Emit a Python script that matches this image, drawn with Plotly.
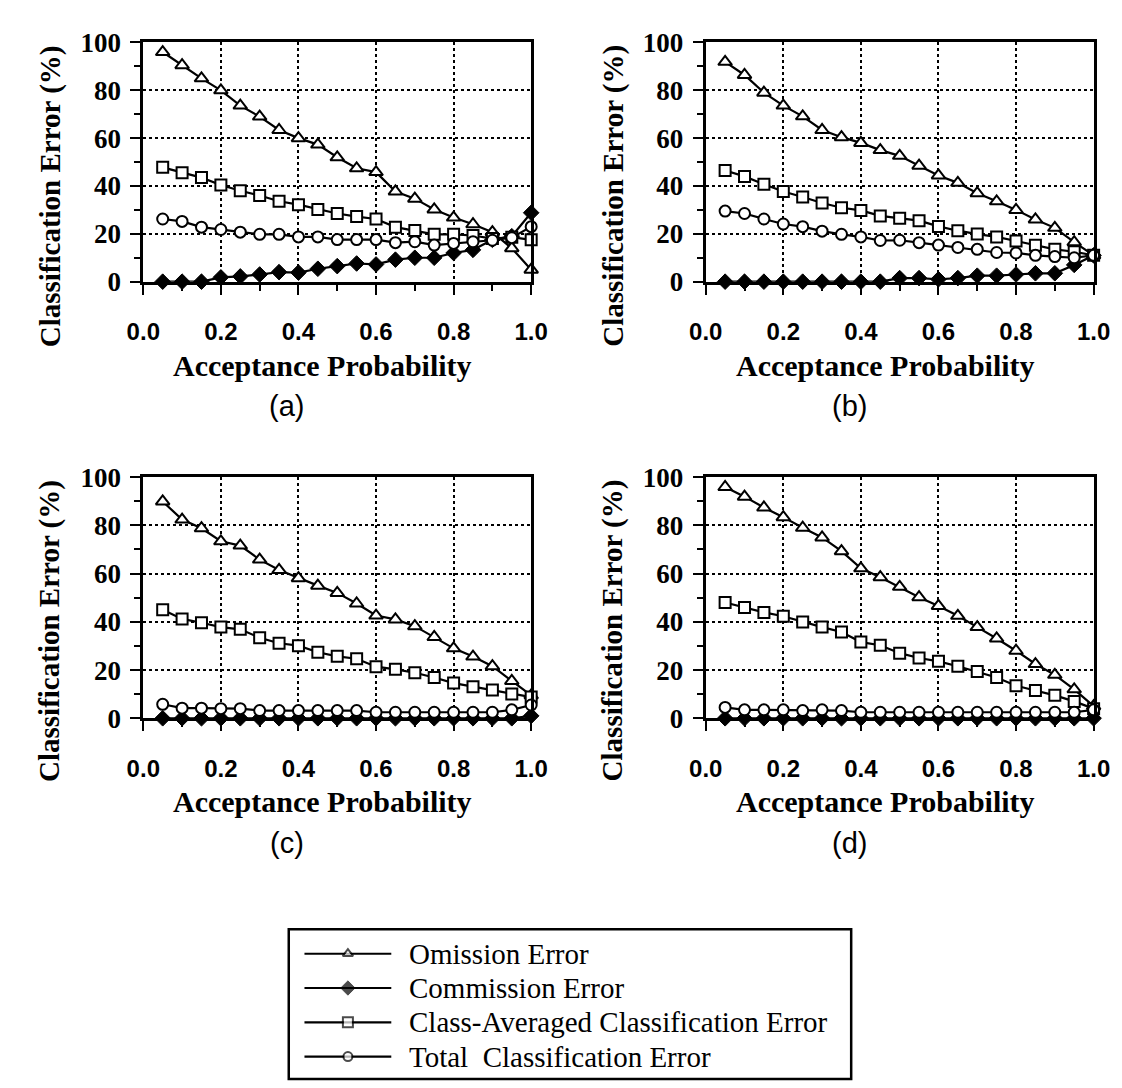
import plotly.graph_objects as go

# ---------------- data ----------------
accept_prob = [0.05, 0.10, 0.15, 0.20, 0.25, 0.30, 0.35, 0.40, 0.45, 0.50,
               0.55, 0.60, 0.65, 0.70, 0.75, 0.80, 0.85, 0.90, 0.95, 1.00]

omission_a = [96, 90.5, 85, 80, 73.6, 69, 63.4, 60, 57.3, 52, 47.4, 45.8, 37.7, 34.7, 30.2, 26.8, 24, 20.7, 14, 5]
commission_a = [0, 0, 0, 1.8, 2.2, 3, 4, 3.8, 5.4, 6.5, 7.6, 7.2, 9.2, 10, 10, 12, 13.3, 17.5, 19, 28.8]
avg_a = [47.8, 45.5, 43.5, 40.4, 38, 36, 33.6, 32.2, 30.2, 28.5, 27.2, 26.2, 22.8, 21.4, 19.8, 19.8, 19.3, 18, 18.6, 17.5]
total_a = [26.2, 25.2, 22.8, 21.8, 20.7, 19.8, 19.8, 18.7, 18.7, 17.6, 17.6, 17.6, 16.3, 16.7, 15.3, 16, 16.7, 17.3, 18.4, 23]

omission_b = [91.9, 86.4, 79, 73.6, 69.1, 63.4, 60.4, 58, 55, 52.6, 48.5, 44.4, 41.3, 37, 33.6, 30, 26, 22.5, 16.5, 11]
commission_b = [0, 0, 0, 0, 0, 0, 0, 0, 0, 1.5, 1.5, 1, 1.5, 2.5, 2.5, 3, 3.5, 3.5, 7, 11]
avg_b = [46.5, 44, 40.7, 37.7, 35.4, 32.9, 30.9, 29.8, 27.5, 26.5, 25.5, 23.1, 21.3, 19.9, 18.7, 17, 15.2, 13.5, 12.5, 11]
total_b = [29.5, 28.5, 26.2, 24.1, 23, 21.1, 19.8, 18.7, 17.2, 17.3, 16.3, 15.3, 14.3, 13.5, 12.2, 12, 11, 10.5, 10, 11]

omission_c = [89.9, 82.4, 78.8, 73.4, 71.6, 65.8, 61.5, 58.1, 55, 52, 47.6, 42.6, 41, 38.2, 33.7, 29, 25.6, 21.6, 15.5, 9.5]
commission_c = [0, 0, 0, 0, 0, 0, 0, 0, 0, 0, 0, 0, 0, 0, 0, 0, 0, 0, 0, 1]
avg_c = [45, 41.2, 39.6, 37.8, 36.9, 33.4, 31.1, 30.1, 27.4, 25.7, 24.7, 21.4, 20.3, 18.9, 16.9, 14.6, 13.1, 11.7, 10.1, 8.8]
total_c = [5.8, 4.2, 4.2, 4, 4, 3.2, 3.2, 3.2, 3.2, 3.2, 3.2, 2.5, 2.5, 2.5, 2.5, 2.5, 2.5, 2.5, 3.5, 5.5]

omission_d = [95.9, 91.9, 87.4, 83.4, 79, 75, 69.3, 62.2, 58.5, 54.5, 50.2, 46.6, 42.5, 37.8, 33.1, 28, 22.5, 18, 12, 5]
commission_d = [0, 0, 0, 0, 0, 0, 0, 0, 0, 0, 0, 0, 0, 0, 0, 0, 0, 0, 0, 0]
avg_d = [48, 45.9, 43.9, 42.3, 39.9, 37.8, 35.8, 31.6, 30.3, 27, 25, 23.6, 21.6, 19.4, 16.9, 13.5, 11.5, 9.5, 7, 4]
total_d = [4.5, 3.5, 3.5, 3.5, 3.2, 3.5, 3.2, 2.5, 2.5, 2.5, 2.5, 2.5, 2.5, 2.5, 2.5, 2.5, 2.5, 2.5, 2.5, 3.5]

series_names = ["Omission Error", "Commission Error",
                "Class-Averaged Classification Error", "Total  Classification Error"]
panel_labels = ["(a)", "(b)", "(c)", "(d)"]
x_tick_vals = [0.0, 0.2, 0.4, 0.6, 0.8, 1.0]
x_tick_text = ["0.0", "0.2", "0.4", "0.6", "0.8", "1.0"]
y_tick_vals = [0, 20, 40, 60, 80, 100]
y_tick_text = ["0", "20", "40", "60", "80", "100"]
y_title = "Classification Error (%)"
x_title = "Acceptance Probability"

panels = [
    [omission_a, commission_a, avg_a, total_a],
    [omission_b, commission_b, avg_b, total_b],
    [omission_c, commission_c, avg_c, total_c],
    [omission_d, commission_d, avg_d, total_d],
]

# ---------------- styling ----------------
W, H = 1122, 1088
SERIF = "Liberation Serif"
SANS = "Liberation Sans"
# plot-area pixel boxes: (left, right, top, bottom)
boxes = [(122, 522, 20, 266), (702, 1102, 20, 266),
         (122, 522, 467, 715), (702, 1102, 467, 715)]

marker_styles = [
    dict(symbol="triangle-up", size=12, color="white", line=dict(color="black", width=2)),
    dict(symbol="diamond", size=12, color="black", line=dict(color="black", width=1)),
    dict(symbol="square", size=11, color="white", line=dict(color="black", width=2)),
    dict(symbol="circle", size=11, color="white", line=dict(color="black", width=2)),
]
legend_key_sizes = [9, 11, 10, 9]

fig = go.Figure()


def px_x(p):
    return p / W


def px_y(p):
    return 1 - p / H


for i, series in enumerate(panels):
    ax = "" if i == 0 else str(i + 1)
    for j, vals in enumerate(series):
        fig.add_trace(go.Scatter(
            x=accept_prob, y=vals, mode="lines+markers",
            name=series_names[j], showlegend=False,
            line=dict(color="black", width=2.2),
            marker=marker_styles[j],
            cliponaxis=False,
            xaxis="x" + ax, yaxis="y" + ax,
        ))

    l, r, t, b = boxes[i]
    axis_common = dict(
        showline=True, linewidth=3, linecolor="black", mirror=True,
        showgrid=True, gridcolor="black", gridwidth=1.5, griddash="dot",
        zeroline=False, ticks="outside", ticklen=10, tickwidth=2, tickcolor="black",
        fixedrange=True,
    )
    fig.layout["xaxis" + ax] = dict(
        axis_common, domain=[px_x(l), px_x(r)], range=[0, 1.0],
        anchor="y" + ax, tickvals=x_tick_vals, ticktext=x_tick_text,
        tickfont=dict(family=SANS, size=24, color="black", weight="bold"),
        ticklabelstandoff=17,
        minor=dict(dtick=0.1, ticks="outside", ticklen=6, tickwidth=2,
                   tickcolor="black", showgrid=False),
    )
    fig.layout["yaxis" + ax] = dict(
        axis_common, domain=[px_y(b), px_y(t)], range=[0, 100],
        anchor="x" + ax, tickvals=y_tick_vals, ticktext=y_tick_text,
        tickfont=dict(family=SERIF, size=27, color="black", weight="bold"),
        ticklabelstandoff=4,
        minor=dict(dtick=10, ticks="outside", ticklen=6, tickwidth=2,
                   tickcolor="black", showgrid=False),
    )

    # y title
    fig.add_annotation(
        text=y_title, textangle=-90, xref="paper", yref="paper",
        x=px_x(l - 96), y=px_y(t + 158), xanchor="center", yanchor="middle",
        showarrow=False,
        font=dict(family=SERIF, size=29, color="black", weight="bold"),
    )
    # x title
    fig.add_annotation(
        text=x_title, xref="paper", yref="paper",
        x=px_x(l + 185), y=px_y(b + 86), xanchor="center", yanchor="middle",
        showarrow=False,
        font=dict(family=SERIF, size=30, color="black", weight="bold"),
    )
    # panel label
    fig.add_annotation(
        text=panel_labels[i], xref="paper", yref="paper",
        x=px_x(l + 148), y=px_y(b + 128), xanchor="center", yanchor="middle",
        showarrow=False,
        font=dict(family=SANS, size=29, color="black"),
    )

# ---------------- legend (drawn as a framed key) ----------------
LEG_L, LEG_R, LEG_T, LEG_B = 272, 852, 932, 1086
KEY_L, KEY_R = 288, 378
ROW_TOP, ROW_H = 939.5, 35.25
legend_rows = [0, 1, 2, 3]

fig.add_shape(type="rect", xref="paper", yref="paper",
              x0=px_x(LEG_L), x1=px_x(LEG_R), y0=px_y(LEG_B), y1=px_y(LEG_T),
              line=dict(color="black", width=2.5), fillcolor="white", layer="below")

fig.layout["xaxis5"] = dict(domain=[px_x(KEY_L), px_x(KEY_R)], range=[0, 1],
                            visible=False, fixedrange=True, anchor="y5")
fig.layout["yaxis5"] = dict(domain=[px_y(ROW_TOP + 4 * ROW_H), px_y(ROW_TOP)],
                            range=[3.5, -0.5], visible=False, fixedrange=True, anchor="x5")

for j, name in enumerate(series_names):
    ms = marker_styles[j]
    fig.add_trace(go.Scatter(
        x=[0, 0.5, 1], y=[legend_rows[j]] * 3, mode="lines+markers",
        showlegend=False, hoverinfo="skip",
        line=dict(color="black", width=2.2),
        marker=dict(symbol=ms["symbol"], color=ms["color"],
                    size=[0, legend_key_sizes[j], 0],
                    line=dict(color="black", width=[0, ms["line"]["width"], 0])),
        cliponaxis=False, xaxis="x5", yaxis="y5",
    ))
    fig.add_annotation(
        text=name, xref="paper", yref="paper",
        x=px_x(394), y=px_y(ROW_TOP + (j + 0.5) * ROW_H),
        xanchor="left", yanchor="middle", showarrow=False,
        font=dict(family=SERIF, size=29, color="black"),
    )

fig.update_layout(
    width=W, height=H,
    margin=dict(l=0, r=0, t=0, b=0),
    paper_bgcolor="white", plot_bgcolor="white",
    showlegend=False,
)

fig.write_html("out.html")
